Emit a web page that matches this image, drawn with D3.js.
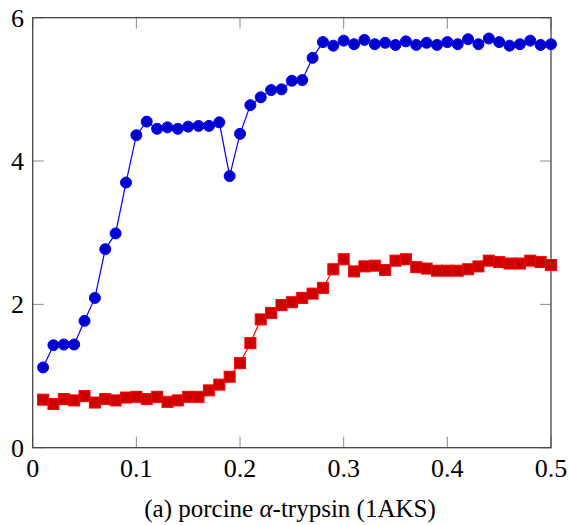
<!DOCTYPE html>
<html>
<head>
<meta charset="utf-8">
<script src="https://cdn.jsdelivr.net/npm/d3@7"></script>
<style>
  html, body { margin: 0; padding: 0; background: #fff; }
  svg { display: block; }
  svg text { font-family: "Liberation Serif", "Times New Roman", serif !important; }
</style>
</head>
<body>
<svg id="chart" width="569" height="525"></svg>
<script>
// Sample positions along the x axis
const xValues = d3.range(1, 51).map(i => +(i / 100).toFixed(2));

// Upper series (circles)
const seriesCircle = [
  1.12, 1.43, 1.44, 1.44, 1.77, 2.09, 2.77, 2.99, 3.70, 4.36,
  4.55, 4.45, 4.47, 4.45, 4.48, 4.49, 4.49, 4.54, 3.79, 4.38,
  4.78, 4.89, 4.99, 5.00, 5.12, 5.13, 5.44, 5.66, 5.61, 5.68,
  5.63, 5.69, 5.63, 5.65, 5.62, 5.67, 5.62, 5.65, 5.62, 5.66,
  5.63, 5.70, 5.63, 5.71, 5.66, 5.61, 5.63, 5.68, 5.62, 5.63
];

// Lower series (squares)
const seriesSquare = [
  0.67, 0.61, 0.68, 0.66, 0.72, 0.63, 0.68, 0.66, 0.70, 0.71,
  0.68, 0.71, 0.64, 0.66, 0.71, 0.71, 0.80, 0.88, 0.99, 1.18,
  1.46, 1.79, 1.88, 1.99, 2.03, 2.09, 2.15, 2.23, 2.49, 2.63,
  2.46, 2.53, 2.54, 2.48, 2.61, 2.63, 2.52, 2.50, 2.47, 2.47,
  2.47, 2.49, 2.53, 2.61, 2.59, 2.57, 2.57, 2.61, 2.59, 2.55
];

const xTicks = [0, 0.1, 0.2, 0.3, 0.4, 0.5];
const yTicks = [0, 2, 4, 6];
const xTickLabels = ["0", "0.1", "0.2", "0.3", "0.4", "0.5"];
const yTickLabels = ["0", "2", "4", "6"];

const svg = d3.select("#chart");
const plotLeft = 32.7, plotRight = 551, plotTop = 17.7, plotBottom = 447.7;

const x = d3.scaleLinear().domain([0, 0.5]).range([plotLeft, plotRight]);
const y = d3.scaleLinear().domain([0, 6]).range([plotBottom, plotTop]);

const tickLen = 11;

// Inward ticks on all four sides
const tickG = svg.append("g").attr("stroke", "#8a8a8a").attr("stroke-width", 1);
xTicks.forEach(t => {
  tickG.append("line").attr("x1", x(t)).attr("x2", x(t)).attr("y1", plotBottom).attr("y2", plotBottom - tickLen);
  tickG.append("line").attr("x1", x(t)).attr("x2", x(t)).attr("y1", plotTop).attr("y2", plotTop + tickLen);
});
yTicks.forEach(t => {
  tickG.append("line").attr("x1", plotLeft).attr("x2", plotLeft + tickLen).attr("y1", y(t)).attr("y2", y(t));
  tickG.append("line").attr("x1", plotRight).attr("x2", plotRight - tickLen).attr("y1", y(t)).attr("y2", y(t));
});

// Frame
svg.append("rect")
  .attr("x", plotLeft).attr("y", plotTop)
  .attr("width", plotRight - plotLeft).attr("height", plotBottom - plotTop)
  .attr("fill", "none").attr("stroke", "#444").attr("stroke-width", 1.3);

// Tick labels
svg.append("g").selectAll("text").data(xTicks).join("text")
  .attr("x", d => x(d)).attr("y", 477)
  .attr("text-anchor", "middle").attr("font-size", 26)
  .text((d, i) => xTickLabels[i]);

svg.append("g").selectAll("text").data(yTicks).join("text")
  .attr("x", 24).attr("y", d => y(d) + 9)
  .attr("text-anchor", "end").attr("font-size", 26)
  .text((d, i) => yTickLabels[i]);

// Lines
const line = d3.line().x(d => x(d[0])).y(d => y(d[1]));
const circPts = xValues.map((v, i) => [v, seriesCircle[i]]);
const sqPts = xValues.map((v, i) => [v, seriesSquare[i]]);

svg.append("path").datum(sqPts).attr("d", line)
  .attr("fill", "none").attr("stroke", "#ff0000").attr("stroke-width", 1.2);
svg.append("path").datum(circPts).attr("d", line)
  .attr("fill", "none").attr("stroke", "#0000ff").attr("stroke-width", 1.2);

// Markers
const sq = 11;
svg.append("g").selectAll("rect").data(sqPts).join("rect")
  .attr("x", d => x(d[0]) - sq / 2).attr("y", d => y(d[1]) - sq / 2)
  .attr("width", sq).attr("height", sq)
  .attr("fill", "#cc0000").attr("stroke", "#ff0000").attr("stroke-width", 1);

svg.append("g").selectAll("circle").data(circPts).join("circle")
  .attr("cx", d => x(d[0])).attr("cy", d => y(d[1])).attr("r", 5.5)
  .attr("fill", "#0000cc").attr("stroke", "#0000ff").attr("stroke-width", 1);

// Caption
const cap = svg.append("text")
  .attr("x", 290).attr("y", 517)
  .attr("text-anchor", "middle").attr("font-size", 25);
cap.append("tspan").text("(a) porcine ");
cap.append("tspan").attr("font-style", "italic").text("α");
cap.append("tspan").text("-trypsin (1AKS)");
</script>
</body>
</html>
